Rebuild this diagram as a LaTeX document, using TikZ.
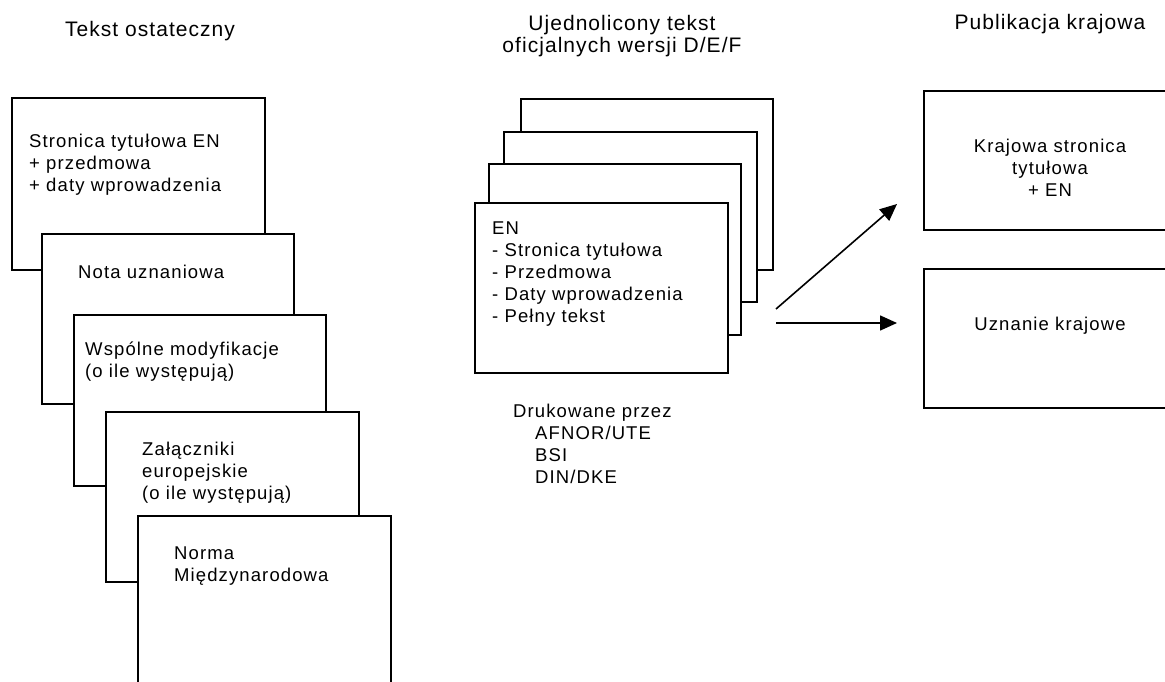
\documentclass[tikz,border=0pt]{standalone}
\usepackage{fontspec}
\setmainfont{Liberation Sans}[LetterSpace=6]
\newfontfamily\hdfont{Liberation Sans}[LetterSpace=5]
\usetikzlibrary{arrows.meta}
\newcommand{\mlines}[1]{\begin{tabular}[t]{@{}l@{}}#1\end{tabular}}
\newcommand{\mclines}[1]{\begin{tabular}[t]{@{}c@{}}#1\end{tabular}}
\begin{document}
\begin{tikzpicture}[x=1pt,y=-1pt,
  page/.style={draw=black,line width=1.6pt,fill=white},
  txt/.style={anchor=base west,inner sep=0pt,font=\fontsize{18.5}{22}\selectfont},
  ctxt/.style={anchor=base,inner sep=0pt,font=\fontsize{18.5}{22}\selectfont},
  hd/.style={anchor=base,inner sep=0pt,font=\hdfont\fontsize{21}{22}\selectfont},
  arr/.style={line width=1.6pt,-{Triangle[length=17pt,width=15pt]}}]
\useasboundingbox (0,0) rectangle (1165,682);
% headers
\node[hd] (h1) at (150,37) {Tekst ostateczny};
\node[hd] (h2) at (622,31) {\mclines{Ujednolicony tekst\\oficjalnych wersji D/E/F}};
\node[hd] (h3) at (1050,30) {Publikacja krajowa};
% left stack
\draw[page] (12,98) rectangle (265,270) node[pos=0.5] (L1) {};
\node[txt] (t1) at (29,148) {\mlines{Stronica tytułowa EN\\+ przedmowa\\+ daty wprowadzenia}};
\draw[page] (42,234) rectangle (294,404) node[pos=0.5] (L2) {};
\node[txt] (t2) at (78,278) {Nota uznaniowa};
\draw[page] (74,315) rectangle (326,486) node[pos=0.5] (L3) {};
\node[txt] (t3) at (85,355) {\mlines{Wspólne modyfikacje\\(o ile występują)}};
\draw[page] (106,412) rectangle (359,582) node[pos=0.5] (L4) {};
\node[txt] (t4) at (142,455) {\mlines{Załączniki\\europejskie\\(o ile występują)}};
\draw[page] (138,516) rectangle (391,700) node[pos=0.5] (L5) {};
\node[txt] (t5) at (174,559) {\mlines{Norma\\Międzynarodowa}};
% middle stack
\draw[page] (521,99) rectangle (773,270) node[pos=0.5] (M4) {};
\draw[page] (504,132) rectangle (757,302) node[pos=0.5] (M3) {};
\draw[page] (489,164) rectangle (741,335) node[pos=0.5] (M2) {};
\draw[page] (475,203) rectangle (728,373) node[pos=0.5] (M1) {};
\node[txt] (tm) at (492,234) {\mlines{EN\\- Stronica tytułowa\\- Przedmowa\\- Daty wprowadzenia\\- Pełny tekst}};
\node[txt] (dr) at (513,417) {Drukowane przez};
\node[txt] (org) at (535,439) {\mlines{AFNOR/UTE\\BSI\\DIN/DKE}};
% right boxes
\draw[page] (924,91) rectangle (1190,230) node[pos=0.5] (R1) {};
\node[ctxt] (tr1) at (1050,153) {\mclines{Krajowa stronica\\tytułowa\\+ EN}};
\draw[page] (924,269) rectangle (1190,408) node[pos=0.5] (R2) {};
\node[ctxt] (tr2) at (1050,330) {Uznanie krajowe};
% arrows
\coordinate (a1s) at (776,309);
\coordinate (a1e) at (897,204);
\coordinate (a2s) at (776,323);
\coordinate (a2e) at (897,323);
\draw[arr] (a1s) -- (a1e);
\draw[arr] (a2s) -- (a2e);
\end{tikzpicture}
\end{document}
